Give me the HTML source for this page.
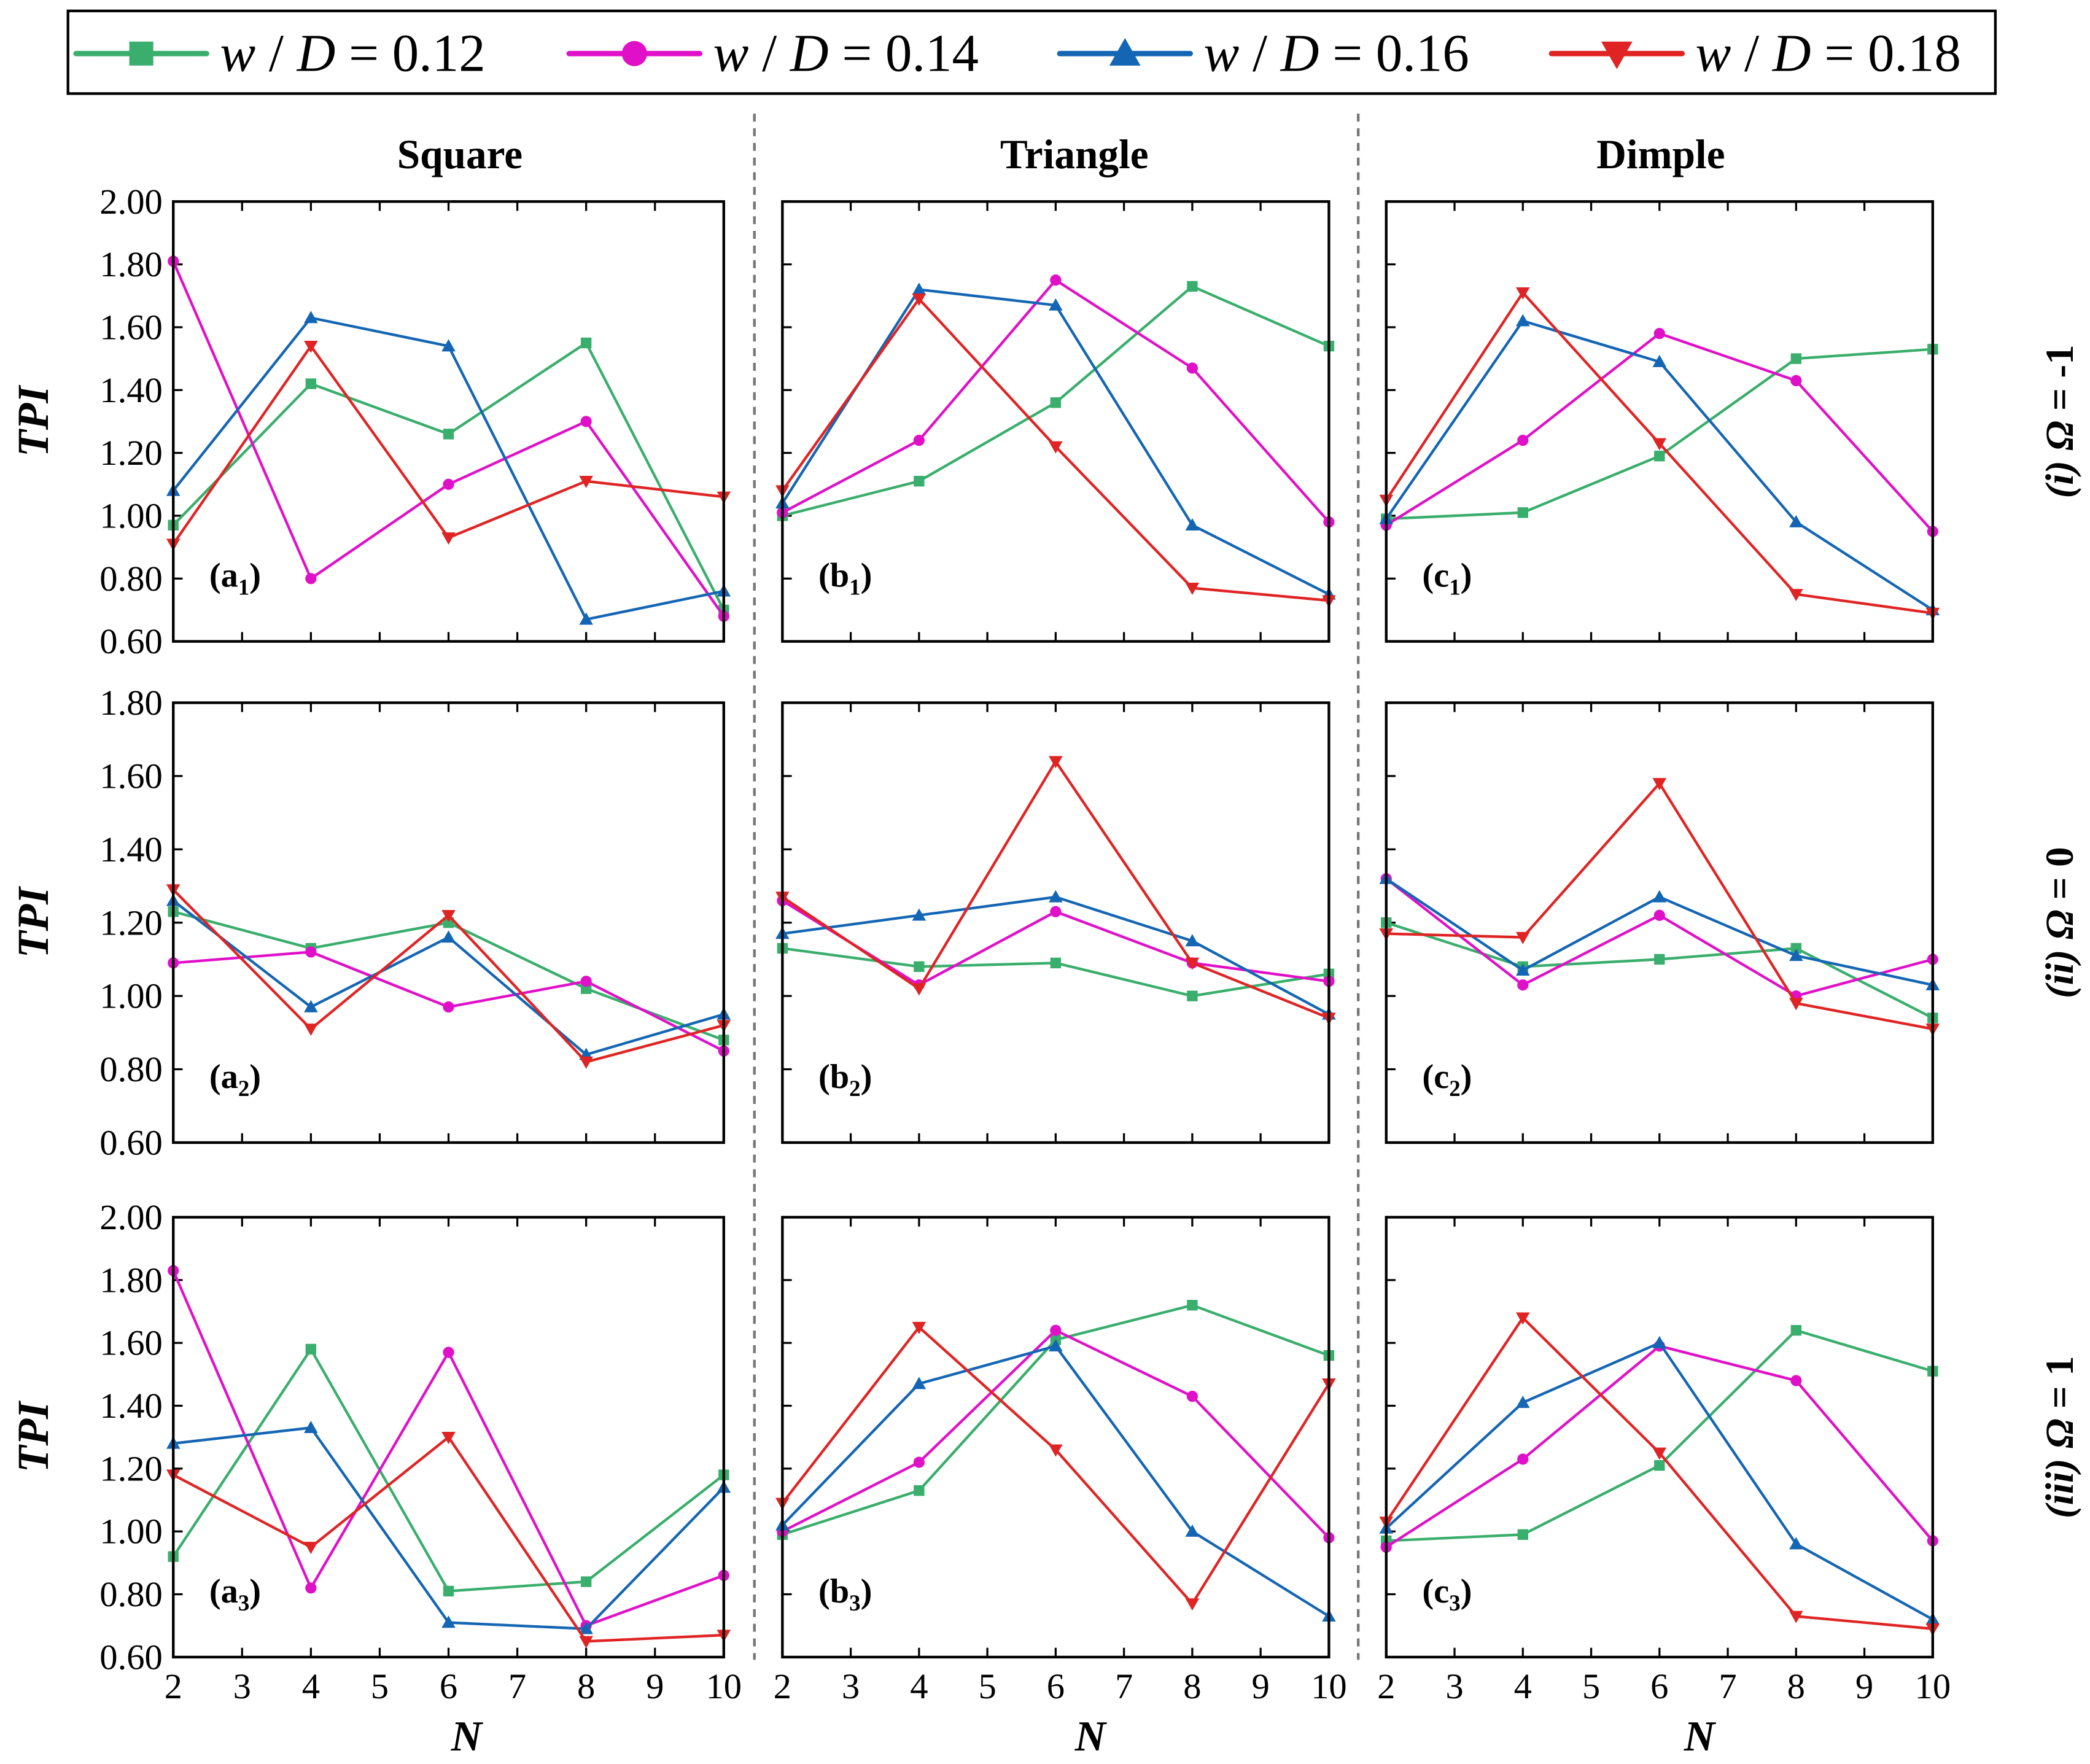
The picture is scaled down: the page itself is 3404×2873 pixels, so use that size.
<!DOCTYPE html>
<html><head><meta charset="utf-8"><style>html,body{margin:0;padding:0;background:#fff}svg{display:block}</style></head>
<body>
<svg id="fig" xmlns="http://www.w3.org/2000/svg" width="3404" height="2873" viewBox="0 0 1568 1323" font-family="'Liberation Serif', serif">
<rect width="1568" height="1323" fill="#fff"/>
<g>
<rect x="51" y="8" width="1446" height="62" fill="#fff" stroke="#000" stroke-width="2"/>
</g>
<line x1="566" y1="85" x2="566" y2="1245" stroke="#777" stroke-width="2" stroke-dasharray="6,5"/>
<line x1="1019" y1="85" x2="1019" y2="1245" stroke="#777" stroke-width="2" stroke-dasharray="6,5"/>
<g id="plots"></g>
</svg>
<script>
const seriesLabels=["0.12","0.14","0.16","0.18"];
const colors=["#3aae6c","#e010c8","#1466b4","#e02424"];
const markers=["square","circle","triangle","tridown"];
const xCats=[2,4,6,8,10];
const xTicks=[2,3,4,5,6,7,8,9,10];
const yTicksA=["0.60","0.80","1.00","1.20","1.40","1.60","1.80","2.00"];
const yTicksB=["0.60","0.80","1.00","1.20","1.40","1.60","1.80"];
const colTitles=["Square","Triangle","Dimple"];
const panelLabels=[["a","1"],["b","1"],["c","1"],["a","2"],["b","2"],["c","2"],["a","3"],["b","3"],["c","3"]];
const a1=[[0.97,1.42,1.26,1.55,0.70],[1.81,0.80,1.10,1.30,0.68],[1.08,1.63,1.54,0.67,0.76],[0.91,1.54,0.93,1.11,1.06]];
const b1=[[1.00,1.11,1.36,1.73,1.54],[1.01,1.24,1.75,1.47,0.98],[1.04,1.72,1.67,0.97,0.75],[1.08,1.69,1.22,0.77,0.73]];
const c1=[[0.99,1.01,1.19,1.50,1.53],[0.97,1.24,1.58,1.43,0.95],[0.99,1.62,1.49,0.98,0.70],[1.05,1.71,1.23,0.75,0.69]];
const a2=[[1.23,1.13,1.20,1.02,0.88],[1.09,1.12,0.97,1.04,0.85],[1.26,0.97,1.16,0.84,0.95],[1.29,0.91,1.22,0.82,0.92]];
const b2=[[1.13,1.08,1.09,1.00,1.06],[1.26,1.03,1.23,1.09,1.04],[1.17,1.22,1.27,1.15,0.95],[1.27,1.02,1.64,1.09,0.94]];
const c2=[[1.20,1.08,1.10,1.13,0.94],[1.32,1.03,1.22,1.00,1.10],[1.32,1.07,1.27,1.11,1.03],[1.17,1.16,1.58,0.98,0.91]];
const a3=[[0.92,1.58,0.81,0.84,1.18],[1.83,0.82,1.57,0.70,0.86],[1.28,1.33,0.71,0.69,1.14],[1.18,0.95,1.30,0.65,0.67]];
const b3=[[0.99,1.13,1.61,1.72,1.56],[1.00,1.22,1.64,1.43,0.98],[1.02,1.47,1.59,1.00,0.73],[1.09,1.65,1.26,0.77,1.47]];
const c3=[[0.97,0.99,1.21,1.64,1.51],[0.95,1.23,1.59,1.48,0.97],[1.01,1.41,1.60,0.96,0.72],[1.03,1.68,1.25,0.73,0.69]];
const panelData=[a1,b1,c1,a2,b2,c2,a3,b3,c3];

const NS="http://www.w3.org/2000/svg";
const root=document.getElementById('plots');
const fig=document.getElementById('fig');
function mk(tag,attrs,parent){const e=document.createElementNS(NS,tag);for(const k in attrs)e.setAttribute(k,attrs[k]);(parent||root).appendChild(e);return e;}
function marker(g,type,x,y,c,s){
  let e;
  if(type==="square")e=mk('rect',{x:x-s,y:y-s,width:2*s,height:2*s,fill:c},g);
  else if(type==="circle")e=mk('circle',{cx:x,cy:y,r:s*1.05,fill:c},g);
  else if(type==="triangle")e=mk('polygon',{points:`${x},${y-s*1.3} ${x-s*1.3},${y+s} ${x+s*1.3},${y+s}`,fill:c},g);
  else e=mk('polygon',{points:`${x},${y+s*1.3} ${x-s*1.3},${y-s} ${x+s*1.3},${y-s}`,fill:c},g);
  return e;
}
const legX=[57,427,795,1164];
seriesLabels.forEach((l,i)=>{
  const g=mk('g',{},fig);
  
  
  mk('line',{x1:legX[i],y1:40,x2:legX[i]+98,y2:40,stroke:colors[i],'stroke-width':4,'stroke-linecap':'round'},g);
  marker(g,markers[i],legX[i]+49,40,colors[i],9);
  const t=mk('text',{x:legX[i]+108,y:53,'font-size':40},g);
  t.innerHTML='<tspan font-style="italic">w</tspan> / <tspan font-style="italic">D</tspan> = '+l;
});
const colX=[[130,543],[587,997],[1040,1450]];
const rowY=[[151,481],[527,857],[913,1243]];
const rowMax=[2.0,1.8,2.0];
const rowTitles=[["(i)","-1"],["(ii)","0"],["(iii)","1"]];
const titleX=[345,806,1246];
colTitles.forEach((t,c)=>{
  const e=mk('text',{x:titleX[c],y:126,'font-size':31,'font-weight':'bold','text-anchor':'middle'});
  
  
  e.textContent=t;
});
for(let r=0;r<3;r++){
  const ty=(rowY[r][0]+rowY[r][1])/2;
  const yt=mk('text',{x:0,y:0,'font-size':33,'font-weight':'bold','font-style':'italic','text-anchor':'middle',transform:`translate(36,${ty}) rotate(-90)`});
  
  
  yt.textContent='TPI';
  const rt=mk('text',{x:0,y:0,'font-size':30,'font-weight':'bold','text-anchor':'middle',transform:`translate(1555,${ty}) rotate(-90)`});
  
  
  rt.innerHTML='<tspan font-style="italic">'+rowTitles[r][0]+' Ω</tspan> = '+rowTitles[r][1];
  for(let c=0;c<3;c++){
    const idx=r*3+c;
    const [x0,x1]=colX[c],[y0,y1]=rowY[r];
    const ymax=rowMax[r];
    const X=v=>x0+(v-2)/8*(x1-x0);
    const Y=v=>y1-(v-0.6)/(ymax-0.6)*(y1-y0);
    const g=mk('g',{});
    
    
    const ticks=r===1?yTicksB:yTicksA;
    ticks.forEach(t=>{
      const v=parseFloat(t);
      mk('line',{x1:x0,y1:Y(v),x2:x0+7,y2:Y(v),stroke:'#000','stroke-width':1.5},g);
      if(c===0){const e=mk('text',{x:x0-8,y:Y(v)+9,'font-size':27,'text-anchor':'end'},g);e.textContent=t;}
    });
    xTicks.forEach(v=>{
      mk('line',{x1:X(v),y1:y1,x2:X(v),y2:y1-7,stroke:'#000','stroke-width':1.5},g);
      mk('line',{x1:X(v),y1:y0,x2:X(v),y2:y0+7,stroke:'#000','stroke-width':1.5},g);
      if(r===2){const e=mk('text',{x:X(v),y:y1+31,'font-size':27,'text-anchor':'middle'},g);e.textContent=v;}
    });
    if(r===2){const e=mk('text',{x:[350,818,1275][c],y:1313,'font-size':32,'font-weight':'bold','font-style':'italic','text-anchor':'middle'},g);
      e.textContent='N';}
    panelData[idx].forEach((s,i)=>{
      const sg=mk('g',{},g);
      
      
      mk('polyline',{points:s.map((v,j)=>X(xCats[j])+','+Y(v)).join(' '),fill:'none',stroke:colors[i],'stroke-width':2},sg);
      s.forEach((v,j)=>{const m=marker(sg,markers[i],X(xCats[j]),Y(v),colors[i],4);
        });
    });
    mk('rect',{x:x0,y:y0,width:x1-x0,height:y1-y0,fill:'none',stroke:'#000','stroke-width':2},g);
    const pl=mk('text',{x:x0+27,y:y1-41,'font-size':26,'font-weight':'bold'},g);
    
    
    pl.innerHTML='('+panelLabels[idx][0]+'<tspan font-size="17" dy="6">'+panelLabels[idx][1]+'</tspan><tspan dy="-6">)</tspan>';
  }
}
</script>
</body></html>
